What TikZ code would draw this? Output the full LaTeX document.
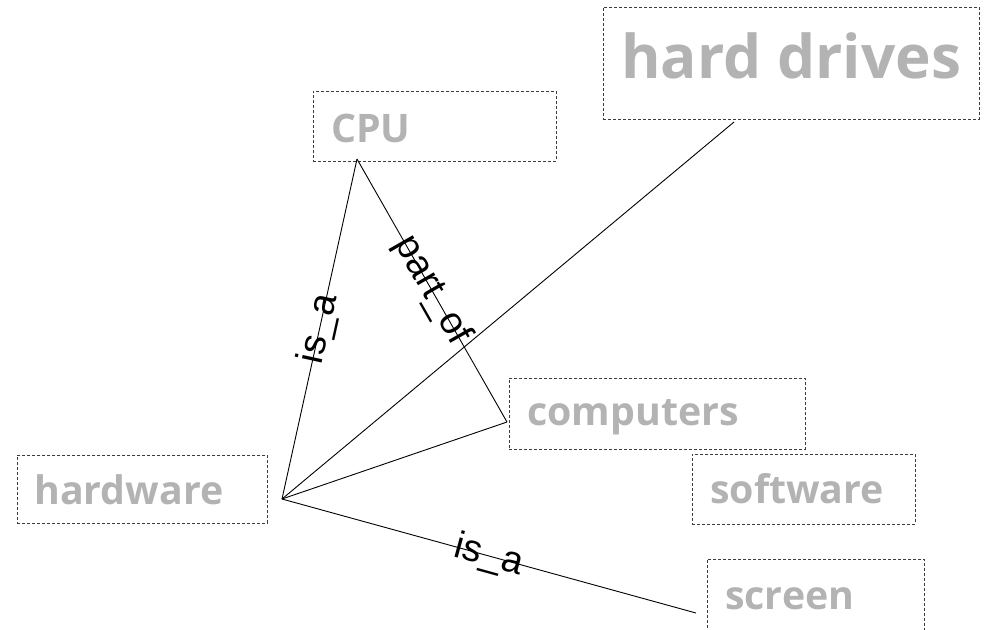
\documentclass[tikz,border=0pt]{standalone}
\usepackage{fontspec}
\setmainfont{Liberation Sans}
\newfontfamily\conceptfont{Open Sans}
\definecolor{conceptgray}{RGB}{179,179,179}
\definecolor{framegray}{RGB}{60,60,60}
\begin{document}
\begin{tikzpicture}[x=1pt,y=-1pt,
  frame/.style={draw=framegray, dash pattern=on 3pt off 2pt, line width=0.9pt,
    inner sep=0pt, anchor=north west},
  concept/.style={font=\conceptfont\bfseries\fontsize{39.3}{41}\selectfont,
    text=conceptgray, inner sep=0pt, anchor=base west},
  bigconcept/.style={concept, font=\conceptfont\bfseries\fontsize{60.3}{62}\selectfont},
  rel/.style={draw=black, line width=0.9pt},
  rellabel/.style={font=\fontsize{38}{40}\selectfont, sloped, midway, inner sep=0pt}]
  \useasboundingbox (0,0) rectangle (984,629);
  \clip (0,0) rectangle (984,629);

  % concept frames
  \node[frame, minimum width=250pt, minimum height=68pt] (hardware-frame) at (17,455) {};
  \node[frame, minimum width=243pt, minimum height=70pt] (cpu-frame) at (313,91) {};
  \node[frame, minimum width=376pt, minimum height=112pt] (drives-frame) at (603,7) {};
  \node[frame, minimum width=296pt, minimum height=71pt] (computers-frame) at (509,378) {};
  \node[frame, minimum width=223pt, minimum height=70pt] (software-frame) at (692,454) {};
  \node[frame, minimum width=217pt, minimum height=90pt] (screen-frame) at (707,559) {};

  % concept names
  \node[concept] (hardware) at (34,504) {hardware};
  \node[concept] (cpu) at (331,142) {CPU};
  \node[bigconcept] (drives) at (621,78) {hard drives};
  \node[concept] (computers) at (527,425) {computers};
  \node[concept] (software) at (710,503) {software};
  \node[concept] (screen) at (725,609) {screen};

  % connection points
  \coordinate (hw-port) at (282,499);
  \coordinate (cpu-port) at (357,159);
  \coordinate (drives-port) at (734,122);
  \coordinate (computers-port) at (507,422);
  \coordinate (screen-port) at (696,613);

  % relations
  \draw[rel] (hw-port) -- node[rellabel] {is\_a} (cpu-port);
  \draw[rel] (cpu-port) -- node[rellabel] {part\_of} (computers-port);
  \draw[rel] (hw-port) -- (drives-port);
  \draw[rel] (hw-port) -- (computers-port);
  \draw[rel] (hw-port) -- node[rellabel] {is\_a} (screen-port);
\end{tikzpicture}
\end{document}
